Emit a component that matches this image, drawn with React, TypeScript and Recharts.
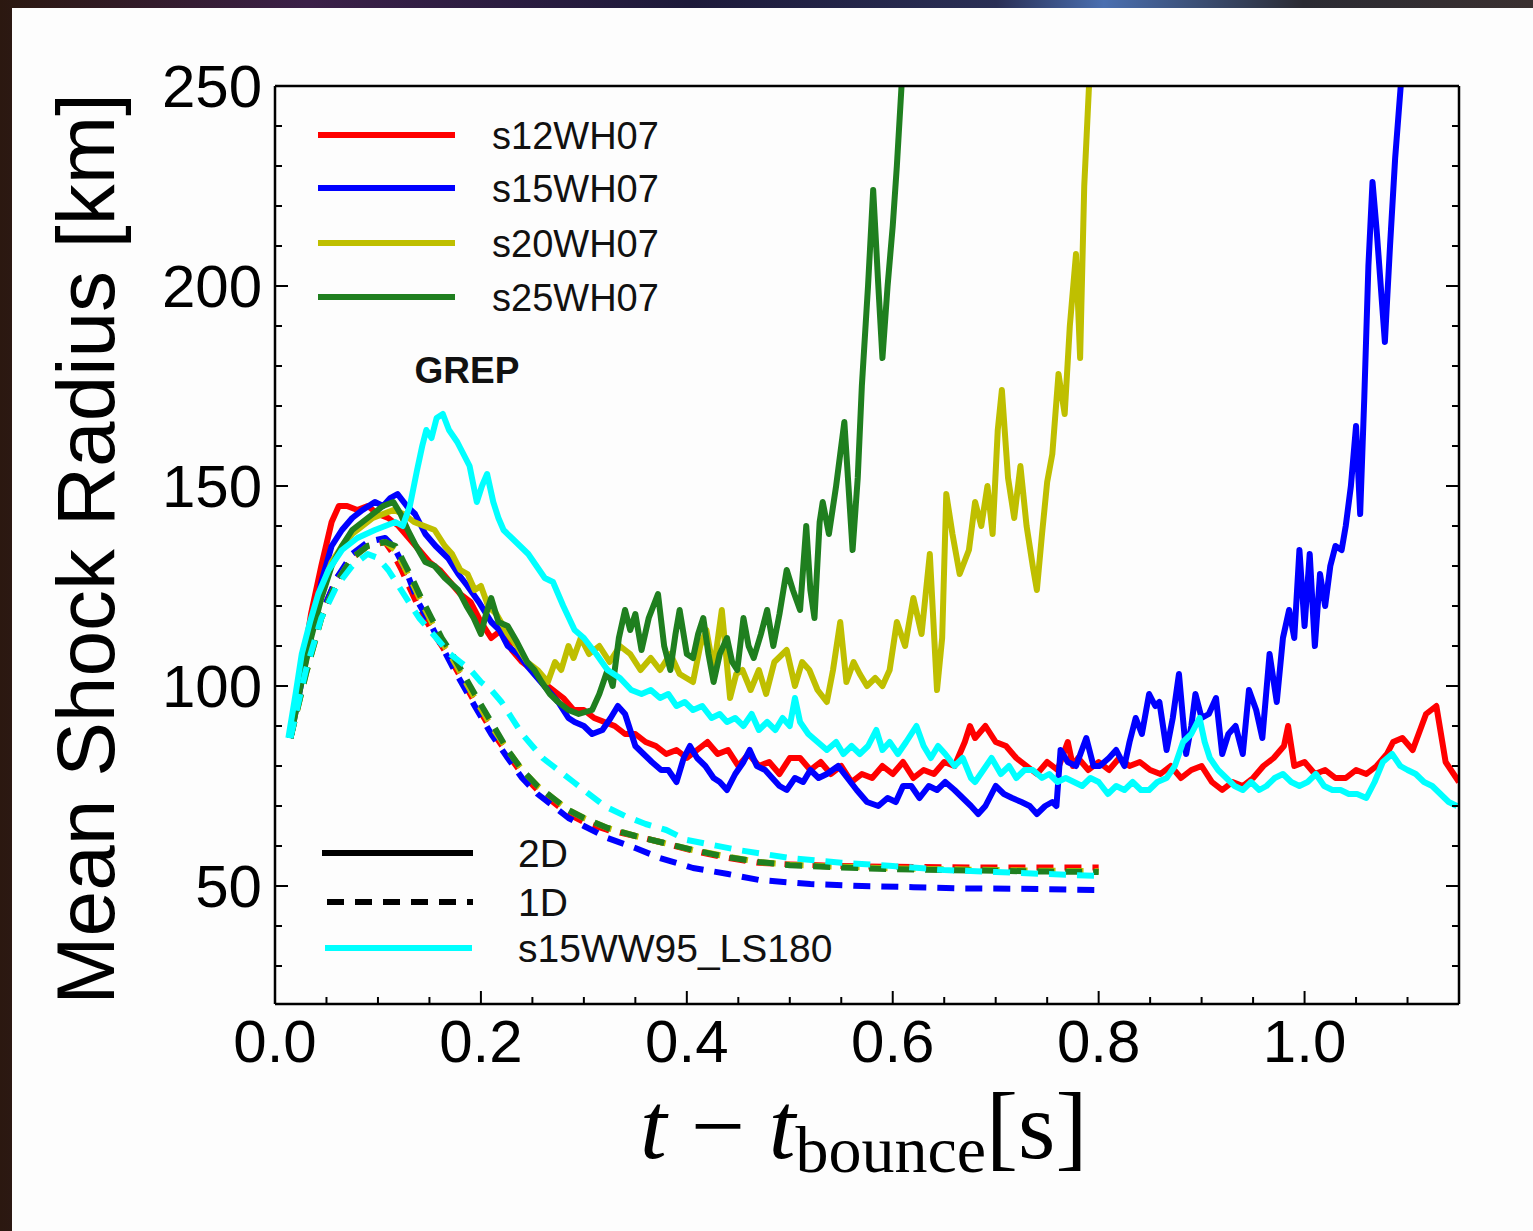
import React from "react";
import { LineChart, Line, XAxis, YAxis, Customized } from "recharts";

type Pt = [number, number];

// 2D runs (solid), t - t_bounce [s] vs mean shock radius [km]
const s12_2D: Pt[] = [
  [0.015, 87], [0.025, 102], [0.035, 118], [0.045, 130], [0.055, 141], [0.062, 145], [0.07, 145], [0.08, 144],
  [0.09, 145], [0.1, 143], [0.11, 142], [0.12, 140], [0.13, 137], [0.14, 134], [0.15, 131], [0.16, 129],
  [0.17, 126], [0.18, 123], [0.19, 121], [0.2, 116], [0.21, 112], [0.22, 114], [0.23, 109], [0.24, 106],
  [0.25, 104], [0.26, 101], [0.27, 99], [0.28, 97], [0.29, 94], [0.3, 94], [0.31, 92], [0.32, 91],
  [0.33, 90], [0.34, 88], [0.35, 88], [0.36, 86], [0.37, 85], [0.38, 83], [0.39, 84], [0.4, 82],
  [0.41, 84], [0.42, 86], [0.43, 83], [0.44, 84], [0.45, 80], [0.46, 83], [0.47, 80], [0.48, 81],
  [0.49, 78], [0.5, 82], [0.51, 82], [0.52, 79], [0.53, 81], [0.54, 78], [0.55, 80], [0.56, 76],
  [0.57, 78], [0.58, 77], [0.59, 80], [0.6, 78], [0.61, 81], [0.62, 77], [0.63, 79], [0.64, 78],
  [0.65, 81], [0.66, 80], [0.67, 86], [0.675, 90], [0.68, 87], [0.69, 90], [0.7, 86], [0.71, 85],
  [0.72, 82], [0.73, 80], [0.74, 78], [0.75, 81], [0.76, 79], [0.77, 86], [0.775, 80], [0.78, 82],
  [0.79, 79], [0.8, 81], [0.81, 79], [0.82, 82], [0.83, 80], [0.84, 81], [0.85, 79], [0.86, 78],
  [0.87, 80], [0.88, 77], [0.89, 79], [0.9, 80], [0.91, 76], [0.92, 74], [0.93, 76], [0.94, 75],
  [0.95, 77], [0.96, 80], [0.97, 82], [0.98, 85], [0.984, 90], [0.99, 80], [1.0, 81], [1.01, 78],
  [1.02, 79], [1.03, 77], [1.04, 77], [1.05, 79], [1.06, 78], [1.07, 80], [1.08, 83], [1.086, 86],
  [1.095, 87], [1.105, 84], [1.118, 93], [1.128, 95], [1.137, 81], [1.15, 76],
];

const s15_2D: Pt[] = [
  [0.015, 87], [0.025, 100], [0.035, 113], [0.045, 126], [0.055, 135], [0.065, 139], [0.075, 142], [0.085, 144],
  [0.097, 146], [0.105, 145], [0.112, 147], [0.119, 148], [0.128, 145], [0.136, 143], [0.146, 138], [0.156, 135],
  [0.168, 132], [0.178, 128], [0.187, 125], [0.198, 121], [0.21, 116], [0.218, 114], [0.226, 110], [0.236, 108],
  [0.245, 105], [0.255, 102], [0.265, 99], [0.275, 96], [0.285, 92], [0.291, 91], [0.3, 90], [0.308, 88],
  [0.318, 89], [0.326, 92], [0.333, 95], [0.34, 93], [0.35, 85], [0.358, 83], [0.366, 81], [0.375, 79],
  [0.382, 79], [0.39, 76], [0.397, 82], [0.403, 85], [0.41, 82], [0.418, 80], [0.426, 77], [0.432, 76],
  [0.439, 74], [0.447, 78], [0.455, 81], [0.461, 84], [0.468, 80], [0.476, 79], [0.483, 77], [0.49, 75],
  [0.497, 74], [0.505, 77], [0.513, 76], [0.52, 79], [0.528, 77], [0.536, 78], [0.547, 80], [0.556, 77],
  [0.565, 74], [0.575, 71], [0.586, 70], [0.595, 72], [0.603, 71], [0.61, 75], [0.618, 75], [0.626, 72],
  [0.635, 75], [0.643, 74], [0.651, 76], [0.66, 74], [0.668, 72], [0.676, 70], [0.683, 68], [0.69, 70],
  [0.7, 75], [0.708, 73], [0.716, 72], [0.725, 71], [0.733, 70], [0.74, 68], [0.748, 70], [0.755, 71],
  [0.759, 70], [0.763, 84], [0.77, 81], [0.778, 80], [0.788, 87], [0.795, 80], [0.801, 80], [0.81, 82],
  [0.817, 84], [0.825, 80], [0.83, 86], [0.836, 92], [0.842, 88], [0.849, 98], [0.855, 95], [0.859, 96],
  [0.866, 84], [0.872, 92], [0.878, 103], [0.885, 83], [0.89, 90], [0.894, 98], [0.9, 92], [0.907, 93],
  [0.914, 97], [0.92, 83], [0.926, 88], [0.933, 90], [0.94, 83], [0.946, 99], [0.953, 94], [0.959, 87],
  [0.966, 108], [0.973, 96], [0.979, 112], [0.985, 119], [0.99, 112], [0.995, 134], [1.0, 115], [1.005, 133],
  [1.01, 110], [1.015, 128], [1.02, 120], [1.025, 130], [1.03, 135], [1.036, 134], [1.04, 140], [1.045, 150],
  [1.05, 165], [1.054, 143], [1.058, 172], [1.062, 205], [1.066, 226], [1.07, 214], [1.078, 186], [1.083, 210],
  [1.088, 232], [1.094, 252],
];

const s20_2D: Pt[] = [
  [0.015, 87], [0.025, 101], [0.035, 114], [0.045, 124], [0.055, 131], [0.065, 135], [0.075, 138], [0.085, 140],
  [0.095, 142], [0.105, 143], [0.115, 144], [0.125, 143], [0.135, 141], [0.145, 140], [0.155, 139], [0.165, 135],
  [0.172, 133], [0.18, 129], [0.187, 128], [0.194, 124], [0.2, 125], [0.207, 120], [0.215, 118], [0.226, 113],
  [0.235, 110], [0.245, 106], [0.255, 104], [0.265, 101], [0.272, 106], [0.278, 104], [0.285, 110], [0.29, 107],
  [0.297, 112], [0.305, 108], [0.315, 110], [0.325, 106], [0.335, 110], [0.345, 108], [0.355, 104], [0.365, 107],
  [0.374, 104], [0.384, 108], [0.393, 103], [0.406, 101], [0.413, 110], [0.419, 114], [0.426, 104], [0.434, 119],
  [0.442, 97], [0.448, 103], [0.454, 104], [0.462, 99], [0.47, 104], [0.477, 98], [0.485, 106], [0.497, 109],
  [0.505, 100], [0.512, 106], [0.519, 104], [0.527, 99], [0.536, 96], [0.542, 104], [0.549, 116], [0.555, 101],
  [0.562, 106], [0.568, 103], [0.575, 100], [0.583, 102], [0.59, 100], [0.597, 104], [0.604, 116], [0.612, 110],
  [0.62, 122], [0.628, 113], [0.636, 133], [0.643, 99], [0.648, 112], [0.652, 148], [0.658, 138], [0.665, 128],
  [0.674, 134], [0.68, 146], [0.686, 140], [0.692, 150], [0.697, 138], [0.702, 164], [0.706, 174], [0.712, 152],
  [0.718, 142], [0.724, 155], [0.73, 140], [0.736, 130], [0.74, 124], [0.745, 138], [0.75, 151], [0.755, 158],
  [0.761, 178], [0.767, 168], [0.772, 190], [0.778, 208], [0.782, 182], [0.786, 225], [0.791, 252],
];

const s25_2D: Pt[] = [
  [0.015, 87], [0.025, 100], [0.035, 112], [0.045, 122], [0.055, 130], [0.065, 135], [0.075, 139], [0.085, 141],
  [0.095, 143], [0.105, 145], [0.115, 146], [0.122, 143], [0.129, 139], [0.137, 135], [0.146, 131], [0.155, 130],
  [0.165, 127], [0.178, 124], [0.186, 120], [0.193, 117], [0.2, 113], [0.205, 118], [0.21, 122], [0.217, 116],
  [0.226, 115], [0.235, 111], [0.245, 106], [0.252, 104], [0.259, 101], [0.267, 98], [0.275, 96], [0.285, 94],
  [0.295, 93], [0.308, 94], [0.315, 98], [0.323, 104], [0.328, 100], [0.334, 112], [0.34, 119], [0.345, 114],
  [0.35, 118], [0.356, 109], [0.363, 117], [0.372, 123], [0.378, 110], [0.384, 104], [0.389, 113], [0.393, 119],
  [0.4, 108], [0.406, 107], [0.411, 113], [0.416, 117], [0.421, 108], [0.426, 101], [0.432, 108], [0.439, 112],
  [0.444, 106], [0.449, 104], [0.455, 117], [0.46, 110], [0.465, 107], [0.472, 113], [0.478, 119], [0.484, 110],
  [0.49, 118], [0.497, 129], [0.503, 124], [0.51, 119], [0.516, 140], [0.52, 124], [0.524, 117], [0.529, 141],
  [0.532, 146], [0.538, 138], [0.545, 150], [0.553, 166], [0.557, 150], [0.561, 134], [0.566, 152], [0.57, 175],
  [0.576, 200], [0.581, 224], [0.586, 200], [0.59, 182], [0.595, 200], [0.6, 215], [0.604, 230], [0.609, 252],
];

const s15ls_2D: Pt[] = [
  [0.013, 87], [0.02, 98], [0.026, 108], [0.034, 116], [0.042, 123], [0.052, 129], [0.065, 134], [0.08, 137],
  [0.097, 139], [0.107, 140], [0.117, 141], [0.124, 140], [0.131, 145], [0.138, 154], [0.143, 160], [0.147, 164],
  [0.152, 162], [0.157, 167], [0.163, 168], [0.169, 164], [0.177, 161], [0.183, 158], [0.189, 155], [0.196, 146],
  [0.201, 150], [0.206, 153], [0.212, 146], [0.217, 142], [0.222, 139], [0.23, 137], [0.238, 135], [0.246, 133],
  [0.254, 130], [0.262, 127], [0.27, 126], [0.28, 120], [0.291, 114], [0.3, 112], [0.312, 108], [0.323, 104],
  [0.335, 102], [0.346, 99], [0.356, 98], [0.365, 99], [0.374, 97], [0.382, 98], [0.39, 95], [0.398, 96],
  [0.406, 94], [0.415, 95], [0.424, 92], [0.432, 93], [0.439, 91], [0.447, 92], [0.455, 90], [0.463, 93],
  [0.47, 89], [0.478, 91], [0.486, 89], [0.493, 92], [0.5, 90], [0.505, 97], [0.51, 91], [0.518, 88],
  [0.527, 86], [0.536, 84], [0.545, 86], [0.552, 83], [0.56, 85], [0.568, 83], [0.576, 85], [0.584, 89],
  [0.59, 84], [0.597, 86], [0.605, 83], [0.613, 86], [0.623, 90], [0.63, 85], [0.637, 82], [0.644, 85],
  [0.651, 83], [0.66, 80], [0.668, 82], [0.676, 77], [0.68, 76], [0.688, 79], [0.696, 82], [0.705, 78],
  [0.713, 80], [0.72, 77], [0.728, 79], [0.736, 79], [0.745, 77], [0.752, 78], [0.76, 76], [0.768, 77],
  [0.776, 76], [0.784, 75], [0.792, 77], [0.8, 76], [0.809, 73], [0.817, 75], [0.825, 74], [0.833, 76],
  [0.841, 74], [0.849, 74], [0.857, 76], [0.866, 77], [0.874, 80], [0.882, 86], [0.89, 88], [0.898, 92],
  [0.903, 86], [0.908, 82], [0.916, 79], [0.924, 77], [0.932, 75], [0.94, 74], [0.948, 76], [0.956, 74],
  [0.963, 75], [0.971, 77], [0.979, 78], [0.987, 76], [0.995, 75], [1.003, 76], [1.011, 78], [1.019, 75],
  [1.027, 74], [1.035, 74], [1.043, 73], [1.051, 73], [1.06, 72], [1.068, 76], [1.076, 81], [1.085, 83],
  [1.093, 80], [1.1, 79], [1.108, 78], [1.116, 76], [1.124, 75], [1.132, 73], [1.14, 71], [1.148, 70],
];

// 1D runs (dashed)
const s12_1D: Pt[] = [
  [0.015, 87], [0.03, 104], [0.045, 118], [0.06, 127], [0.075, 132], [0.09, 135], [0.107, 136], [0.115, 133],
  [0.123, 129], [0.13, 125], [0.139, 120], [0.152, 114], [0.162, 110], [0.172, 106], [0.183, 101], [0.194, 96],
  [0.21, 89], [0.226, 83], [0.24, 78], [0.255, 74], [0.27, 71], [0.285, 68], [0.3, 66], [0.323, 64],
  [0.35, 62.5], [0.374, 61], [0.406, 58.8], [0.44, 57], [0.47, 55.8], [0.5, 55.4], [0.55, 55], [0.6, 54.8],
  [0.65, 54.7], [0.7, 54.6], [0.75, 54.6], [0.8, 54.6],
];

const s15_1D: Pt[] = [
  [0.015, 87], [0.03, 104], [0.045, 118], [0.06, 127], [0.075, 133], [0.09, 136], [0.107, 137], [0.115, 135],
  [0.123, 131], [0.13, 127], [0.139, 121], [0.152, 115], [0.162, 110], [0.172, 105], [0.183, 100], [0.194, 95],
  [0.21, 88], [0.226, 82], [0.24, 77], [0.255, 73], [0.27, 70], [0.285, 67], [0.3, 65], [0.323, 62],
  [0.35, 59.5], [0.374, 57], [0.406, 54.5], [0.44, 53], [0.47, 51.5], [0.52, 50.5], [0.57, 50], [0.62, 49.7],
  [0.67, 49.4], [0.72, 49.3], [0.8, 49],
];

const s20_1D: Pt[] = [
  [0.015, 87], [0.03, 103], [0.045, 117], [0.06, 126], [0.075, 132], [0.09, 135], [0.107, 136], [0.117, 134],
  [0.125, 130], [0.133, 126], [0.142, 121], [0.152, 116], [0.162, 111], [0.172, 107], [0.183, 102], [0.194, 97],
  [0.21, 90], [0.226, 84], [0.24, 79], [0.255, 75], [0.27, 72], [0.285, 69], [0.3, 67], [0.323, 64.5],
  [0.35, 62.5], [0.374, 61], [0.406, 59], [0.44, 57.3], [0.47, 56], [0.5, 55.3], [0.55, 54.8], [0.6, 54.4],
  [0.65, 54.2], [0.7, 54], [0.75, 53.8], [0.8, 53.7],
];

const s25_1D: Pt[] = [
  [0.015, 87], [0.03, 103], [0.045, 117], [0.06, 126], [0.075, 132], [0.09, 135], [0.107, 136], [0.117, 135],
  [0.125, 131], [0.133, 127], [0.142, 122], [0.152, 117], [0.162, 112], [0.172, 108], [0.183, 103], [0.194, 98],
  [0.21, 91], [0.226, 84], [0.24, 79], [0.255, 75], [0.27, 72], [0.285, 69], [0.3, 67], [0.323, 64.5],
  [0.35, 62.5], [0.374, 61], [0.406, 59], [0.44, 57.2], [0.47, 56], [0.5, 55.2], [0.55, 54.6], [0.6, 54.2],
  [0.65, 54], [0.7, 53.8], [0.75, 53.6], [0.8, 53.5],
];

const s15ls_1D: Pt[] = [
  [0.015, 87], [0.03, 104], [0.045, 117], [0.06, 125], [0.075, 130], [0.09, 133], [0.1, 132], [0.11, 129],
  [0.12, 125], [0.13, 121], [0.14, 117], [0.15, 114], [0.16, 111], [0.17, 108], [0.18, 106], [0.19, 104],
  [0.2, 101], [0.21, 99], [0.22, 96], [0.23, 92], [0.24, 88], [0.25, 85], [0.26, 82], [0.27, 80],
  [0.28, 78], [0.29, 76], [0.3, 74], [0.32, 70], [0.34, 67.5], [0.36, 65.5], [0.38, 64], [0.4, 61.5],
  [0.45, 59], [0.5, 57], [0.55, 55.8], [0.6, 55], [0.65, 54], [0.7, 53.5], [0.75, 53], [0.8, 52.5],
];

const xMajor = [0, 0.2, 0.4, 0.6, 0.8, 1.0];
const xTicks = [0, 0.05, 0.1, 0.15, 0.2, 0.25, 0.3, 0.35, 0.4, 0.45, 0.5, 0.55, 0.6, 0.65, 0.7, 0.75, 0.8, 0.85, 0.9, 0.95, 1.0, 1.05, 1.1, 1.15];
const yMajor = [50, 100, 150, 200, 250];
const yTicks = [30, 40, 50, 60, 70, 80, 90, 100, 110, 120, 130, 140, 150, 160, 170, 180, 190, 200, 210, 220, 230, 240, 250];

const models = ["s12WH07", "s15WH07", "s20WH07", "s25WH07"];
const modelColors = ["#ff0000", "#0000ff", "#bfbf00", "#1f7f1f"];
const lsName = "s15WW95_LS180";
const lsColor = "#00ffff";

const series = [
  { key: "s12-2d", pts: s12_2D, color: modelColors[0], dashed: false },
  { key: "s12-1d", pts: s12_1D, color: modelColors[0], dashed: true },
  { key: "s15-2d", pts: s15_2D, color: modelColors[1], dashed: false },
  { key: "s15-1d", pts: s15_1D, color: modelColors[1], dashed: true },
  { key: "s20-2d", pts: s20_2D, color: modelColors[2], dashed: false },
  { key: "s20-1d", pts: s20_1D, color: modelColors[2], dashed: true },
  { key: "s25-2d", pts: s25_2D, color: modelColors[3], dashed: false },
  { key: "s25-1d", pts: s25_1D, color: modelColors[3], dashed: true },
  { key: "ls-2d", pts: s15ls_2D, color: lsColor, dashed: false },
  { key: "ls-1d", pts: s15ls_1D, color: lsColor, dashed: true },
];

const FONT = "'Liberation Sans', Arial, Helvetica, sans-serif";
const SERIF = "'Liberation Serif', 'Times New Roman', serif";
const DASH = "17 11";
const AXIS_LINE = { stroke: "#000", strokeWidth: 2.5 };

const near = (arr: number[], v: number) => arr.some((m) => Math.abs(m - v) < 1e-6);

function BottomTick({ x, y, payload }: any) {
  const major = near(xMajor, payload.value);
  return (
    <g>
      <line x1={x} x2={x} y1={y} y2={y - (major ? 13 : 7)} stroke="#000" strokeWidth={2} />
      {major && (
        <text x={x} y={y + 58} textAnchor="middle" fontSize={60} fontFamily={FONT} fill="#000">
          {payload.value.toFixed(1)}
        </text>
      )}
    </g>
  );
}

function TopTick({ x, y, payload }: any) {
  const major = near(xMajor, payload.value);
  return <line x1={x} x2={x} y1={y} y2={y + (major ? 13 : 7)} stroke="#000" strokeWidth={2} />;
}

function LeftTick({ x, y, payload }: any) {
  const major = near(yMajor, payload.value);
  return (
    <g>
      <line x1={x} x2={x + (major ? 13 : 7)} y1={y} y2={y} stroke="#000" strokeWidth={2} />
      {major && (
        <text x={x - 13} y={y + 21} textAnchor="end" fontSize={60} fontFamily={FONT} fill="#000">
          {payload.value}
        </text>
      )}
    </g>
  );
}

function RightTick({ x, y, payload }: any) {
  const major = near(yMajor, payload.value);
  return <line x1={x} x2={x - (major ? 13 : 7)} y1={y} y2={y} stroke="#000" strokeWidth={2} />;
}

function Annotations() {
  const rowY = [135, 188, 243, 297];
  return (
    <g fontFamily={FONT} fill="#111">
      {models.map((m, i) => (
        <g key={m}>
          <line x1={318} x2={455} y1={rowY[i]} y2={rowY[i]} stroke={modelColors[i]} strokeWidth={6} />
          <text x={492} y={rowY[i] + 14} fontSize={38}>{m}</text>
        </g>
      ))}
      <text x={467} y={383} fontSize={37} fontWeight="bold" textAnchor="middle">GREP</text>

      <line x1={322} x2={473} y1={853} y2={853} stroke="#000" strokeWidth={6} />
      <text x={518} y={867} fontSize={39}>2D</text>
      <line x1={327} x2={473} y1={902} y2={902} stroke="#000" strokeWidth={6} strokeDasharray={DASH} />
      <text x={518} y={916} fontSize={39}>1D</text>
      <line x1={325} x2={472} y1={948} y2={948} stroke={lsColor} strokeWidth={6} />
      <text x={518} y={962} fontSize={39}>{lsName}</text>

      <text transform="translate(114, 549) rotate(-90)" textAnchor="middle" fontSize={82} fill="#000">
        Mean Shock Radius [km]
      </text>

      <text x={640} y={1158} fontFamily={SERIF} fontSize={96} fill="#000">
        <tspan fontStyle="italic">t</tspan>
        <tspan> − </tspan>
        <tspan fontStyle="italic">t</tspan>
        <tspan fontSize={66} dy={14}>bounce</tspan>
        <tspan dy={-14}>[s]</tspan>
      </text>
    </g>
  );
}

export default function App() {
  return (
    <div
      style={{
        position: "absolute",
        left: 0,
        top: 0,
        width: 1533,
        height: 1231,
        background:
          "linear-gradient(90deg, #2b1810 0%, #3b2048 20%, #1d1a3a 45%, #2a2f55 65%, #4a6fb0 72%, #2b2b33 85%, #3a3030 100%)",
        overflow: "hidden",
      }}
    >
      <div style={{ position: "absolute", left: 12, top: 8, right: 0, bottom: 0, background: "#fdfdfd" }} />
      <div style={{ position: "absolute", left: 0, top: 0 }}>
        <LineChart width={1533} height={1231} margin={{ top: 85, right: 73, bottom: 226, left: 0 }}>
          <XAxis
            xAxisId="top"
            orientation="top"
            type="number"
            domain={[0, 1.15]}
            allowDataOverflow
            ticks={xTicks}
            interval={0}
            height={1}
            tickSize={0}
            tickMargin={0}
            tick={TopTick}
            tickLine={false}
            axisLine={AXIS_LINE}
          />
          <XAxis
            dataKey="t"
            type="number"
            domain={[0, 1.15]}
            allowDataOverflow
            ticks={xTicks}
            interval={0}
            height={1}
            tickSize={0}
            tickMargin={0}
            tick={BottomTick}
            tickLine={false}
            axisLine={AXIS_LINE}
          />
          <YAxis
            type="number"
            domain={[20.5, 250]}
            allowDataOverflow
            ticks={yTicks}
            interval={0}
            width={275}
            tickSize={0}
            tickMargin={0}
            tick={LeftTick}
            tickLine={false}
            axisLine={AXIS_LINE}
          />
          <YAxis
            yAxisId="right"
            orientation="right"
            type="number"
            domain={[20.5, 250]}
            allowDataOverflow
            ticks={yTicks}
            interval={0}
            width={1}
            tickSize={0}
            tickMargin={0}
            tick={RightTick}
            tickLine={false}
            axisLine={AXIS_LINE}
          />
          {series.map((s) => (
            <Line
              key={s.key}
              data={s.pts.map(([t, r]) => ({ t, r }))}
              dataKey="r"
              type="linear"
              stroke={s.color}
              strokeWidth={6}
              strokeDasharray={s.dashed ? DASH : undefined}
              strokeLinejoin="round"
              dot={false}
              activeDot={false}
              isAnimationActive={false}
            />
          ))}
          <Customized component={Annotations} />
        </LineChart>
      </div>
    </div>
  );
}
